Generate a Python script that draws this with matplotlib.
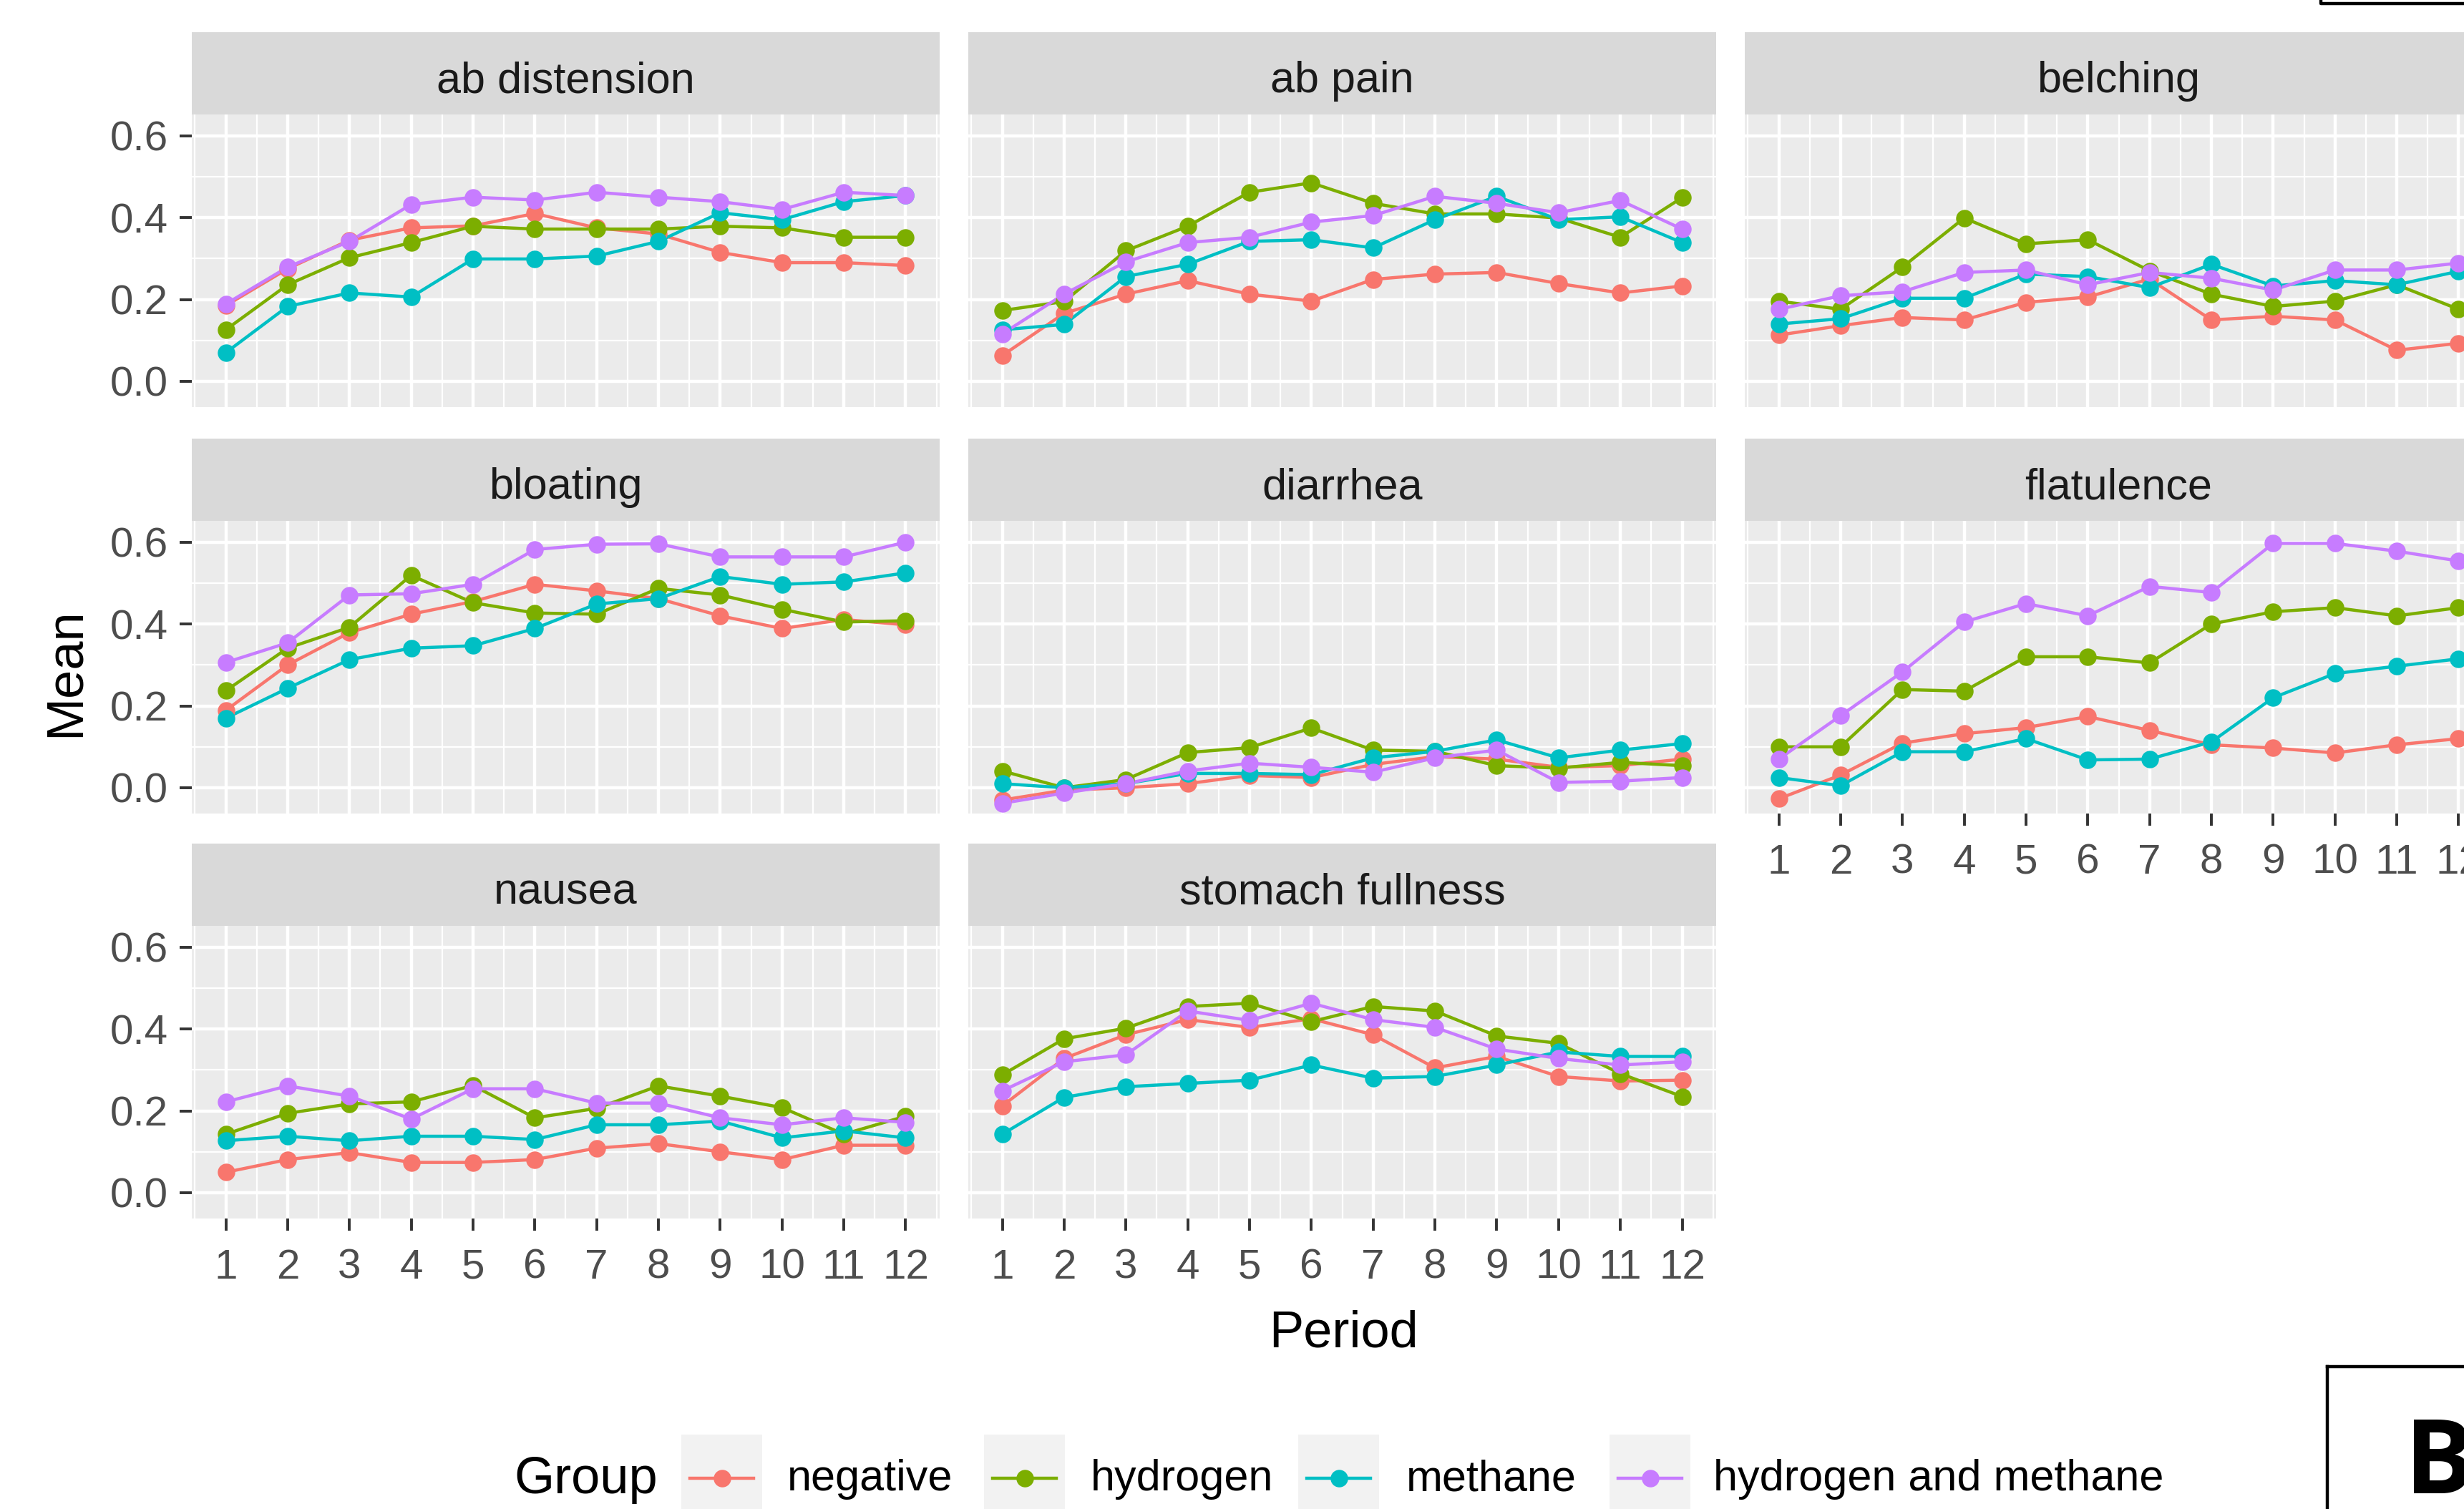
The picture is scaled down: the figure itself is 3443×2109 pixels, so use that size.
import numpy as np
import matplotlib
matplotlib.use('Agg')
import matplotlib.pyplot as plt
from matplotlib.patches import Rectangle
from matplotlib.lines import Line2D

plt.rcParams['font.family'] = ['Liberation Sans', 'DejaVu Sans']

periods = list(range(1, 13))
groups = ['negative', 'hydrogen', 'methane', 'hydrogen and methane']
colors = ['#F8766D', '#7CAE00', '#00BFC4', '#C77CFF']

# each symptom: [negative, hydrogen, methane, hydrogen and methane]
ab_distension = [
    [0.185, 0.275, 0.345, 0.375, 0.38, 0.41, 0.375, 0.36, 0.315, 0.29, 0.29, 0.283],
    [0.126, 0.236, 0.302, 0.339, 0.379, 0.372, 0.372, 0.372, 0.379, 0.375, 0.352, 0.352],
    [0.07, 0.183, 0.216, 0.206, 0.299, 0.299, 0.306, 0.342, 0.412, 0.395, 0.439, 0.454],
    [0.189, 0.279, 0.342, 0.432, 0.45, 0.443, 0.462, 0.45, 0.439, 0.42, 0.462, 0.454],
]
ab_pain = [
    [0.063, 0.166, 0.213, 0.246, 0.213, 0.196, 0.249, 0.262, 0.266, 0.239, 0.216, 0.233],
    [0.173, 0.195, 0.319, 0.379, 0.462, 0.485, 0.435, 0.409, 0.409, 0.399, 0.352, 0.449],
    [0.126, 0.139, 0.256, 0.286, 0.342, 0.346, 0.326, 0.395, 0.452, 0.395, 0.402, 0.339],
    [0.116, 0.213, 0.292, 0.339, 0.352, 0.389, 0.405, 0.452, 0.435, 0.412, 0.442, 0.372],
]
belching = [
    [0.113, 0.136, 0.156, 0.15, 0.193, 0.206, 0.25, 0.15, 0.159, 0.15, 0.076, 0.093],
    [0.196, 0.176, 0.279, 0.399, 0.336, 0.346, 0.27, 0.213, 0.183, 0.196, 0.236, 0.176],
    [0.14, 0.153, 0.203, 0.203, 0.262, 0.256, 0.229, 0.286, 0.233, 0.246, 0.236, 0.269],
    [0.176, 0.209, 0.219, 0.266, 0.272, 0.236, 0.266, 0.252, 0.223, 0.272, 0.272, 0.289],
]
bloating = [
    [0.189, 0.30, 0.379, 0.424, 0.455, 0.497, 0.481, 0.462, 0.42, 0.389, 0.411, 0.398],
    [0.237, 0.341, 0.392, 0.519, 0.452, 0.427, 0.424, 0.487, 0.471, 0.436, 0.405, 0.408],
    [0.17, 0.243, 0.313, 0.341, 0.347, 0.389, 0.449, 0.462, 0.516, 0.497, 0.503, 0.525],
    [0.306, 0.354, 0.471, 0.474, 0.497, 0.582, 0.595, 0.596, 0.564, 0.564, 0.564, 0.60],
]
diarrhea = [
    [-0.03, -0.006, 0.0, 0.01, 0.03, 0.025, 0.057, 0.076, 0.07, 0.05, 0.054, 0.07],
    [0.041, 0.0, 0.02, 0.086, 0.098, 0.146, 0.092, 0.089, 0.054, 0.048, 0.062, 0.054],
    [0.01, 0.0, 0.01, 0.035, 0.035, 0.032, 0.073, 0.089, 0.117, 0.073, 0.092, 0.108],
    [-0.038, -0.013, 0.01, 0.041, 0.06, 0.05, 0.038, 0.073, 0.092, 0.013, 0.016, 0.025],
]
flatulence = [
    [-0.027, 0.031, 0.109, 0.132, 0.147, 0.174, 0.14, 0.105, 0.097, 0.085, 0.105, 0.12],
    [0.10, 0.10, 0.24, 0.236, 0.32, 0.32, 0.305, 0.40, 0.43, 0.44, 0.42, 0.44],
    [0.025, 0.005, 0.088, 0.088, 0.12, 0.068, 0.07, 0.112, 0.22, 0.279, 0.297, 0.315],
    [0.07, 0.176, 0.283, 0.405, 0.45, 0.42, 0.492, 0.477, 0.597, 0.597, 0.578, 0.554],
]
nausea = [
    [0.05, 0.081, 0.098, 0.074, 0.074, 0.081, 0.109, 0.12, 0.10, 0.081, 0.116, 0.116],
    [0.143, 0.194, 0.217, 0.222, 0.262, 0.183, 0.206, 0.261, 0.236, 0.208, 0.143, 0.187],
    [0.127, 0.138, 0.127, 0.138, 0.138, 0.13, 0.166, 0.166, 0.175, 0.134, 0.151, 0.134],
    [0.222, 0.261, 0.236, 0.18, 0.254, 0.254, 0.219, 0.219, 0.183, 0.166, 0.183, 0.172],
]
stomach_fullness = [
    [0.212, 0.328, 0.386, 0.423, 0.404, 0.425, 0.386, 0.305, 0.333, 0.284, 0.273, 0.275],
    [0.288, 0.376, 0.402, 0.455, 0.463, 0.418, 0.455, 0.444, 0.383, 0.365, 0.291, 0.235],
    [0.143, 0.233, 0.259, 0.267, 0.275, 0.312, 0.28, 0.284, 0.312, 0.344, 0.333, 0.333],
    [0.249, 0.32, 0.337, 0.444, 0.421, 0.463, 0.423, 0.404, 0.351, 0.328, 0.312, 0.32],
]

symptoms = ['ab distension', 'ab pain', 'belching', 'bloating', 'diarrhea',
            'flatulence', 'nausea', 'stomach fullness']
symptom_data = [ab_distension, ab_pain, belching, bloating, diarrhea,
                flatulence, nausea, stomach_fullness]

W, H = 3443, 2109
fig = plt.figure(figsize=(W / 200, H / 200), dpi=200)
fig.patch.set_facecolor('white')


def frac(x0, y0, w, h):
    # pixel box (top-left origin) -> figure fraction
    return [x0 / W, 1 - (y0 + h) / H, w / W, h / H]


col_x = [268, 1353, 2438]
pan_w = 1045
strip_top = [45, 613, 1179]
strip_h = 115
plot_h = 409

for k, (name, data) in enumerate(zip(symptoms, symptom_data)):
    r, c = divmod(k, 3)
    x0 = col_x[c]
    st = strip_top[r]
    # strip
    sax = fig.add_axes(frac(x0, st, pan_w, strip_h))
    sax.set_facecolor('#D9D9D9')
    sax.set_xticks([])
    sax.set_yticks([])
    for s in sax.spines.values():
        s.set_visible(False)
    sax.text(0.5, 0.4, name, ha='center', va='center', fontsize=22,
             color='#1A1A1A', transform=sax.transAxes)

    ax = fig.add_axes(frac(x0, st + strip_h, pan_w, plot_h))
    ax.set_facecolor('#EBEBEB')
    for s in ax.spines.values():
        s.set_visible(False)
    ax.set_xlim(0.45, 12.55)
    ax.set_ylim(-0.063, 0.652)
    ax.set_xticks(periods)
    ax.set_xticks(np.arange(0.5, 13, 1.0), minor=True)
    ax.set_yticks([0.0, 0.2, 0.4, 0.6])
    ax.set_yticks([0.1, 0.3, 0.5], minor=True)
    ax.grid(which='major', color='white', lw=1.6)
    ax.grid(which='minor', color='white', lw=0.8)
    ax.set_axisbelow(True)
    ax.tick_params(which='minor', length=0)
    ax.tick_params(which='major', length=6, width=1.4, color='#333333',
                   labelsize=21, labelcolor='#4D4D4D')
    ax.tick_params(axis='x', pad=9)
    ax.tick_params(axis='y', pad=6)
    ax.set_yticklabels(['0.0', '0.2', '0.4', '0.6'])
    if c != 0:
        ax.tick_params(axis='y', length=0, labelleft=False)
    bottom = (r == 2) or (r == 1 and c == 2)
    if not bottom:
        ax.tick_params(axis='x', length=0, labelbottom=False)

    for vals, col in zip(data, colors):
        ax.plot(periods, vals, color=col, lw=1.6, zorder=3)
    for vals, col in zip(data, colors):
        ax.plot(periods, vals, ls='none', marker='o', ms=7.8, color=col, zorder=4)

# axis titles
fig.text(1878 / W, 1 - 1864 / H, 'Period', ha='center', va='center', fontsize=26)
fig.text(92 / W, 1 - 940 / H, 'Mean', ha='center', va='center', fontsize=26,
         rotation=90)

# legend (drawn by hand to get ggplot-style key boxes)
lax = fig.add_axes([0, 0, 1, 1], facecolor='none')
lax.set_xlim(0, W)
lax.set_ylim(H, 0)
lax.axis('off')
lax.text(718, 2068, 'Group', ha='left', va='center', fontsize=26)
key_left = [952, 1375, 1814, 2249]
label_left = [1100, 1524, 1965, 2394]
for kx, lx, g, col in zip(key_left, label_left, groups, colors):
    lax.add_patch(Rectangle((kx, 2005), 113, 113, facecolor='#F2F2F2',
                            edgecolor='none'))
    lax.add_line(Line2D([kx + 12, kx + 101], [2066, 2066], color=col, lw=1.6))
    lax.add_line(Line2D([kx + 56.5], [2066], marker='o', ms=7.8, color=col))
    lax.text(lx, 2068, g, ha='left', va='center', fontsize=22)

# panel label boxes at the right edge
lax.add_line(Line2D([3243, 3243, W + 10], [-10, 5, 5], color='black', lw=1.6))
lax.add_line(Line2D([3252, 3252], [H + 10, 1910], color='black', lw=1.6))
lax.add_line(Line2D([3252, W + 10], [1910, 1910], color='black', lw=1.6))
lax.text(3360, 2050, 'B', ha='left', va='center', fontsize=52,
         fontweight='bold', family=['Open Sans', 'DejaVu Sans'])

fig.savefig('out.png', dpi=200)
